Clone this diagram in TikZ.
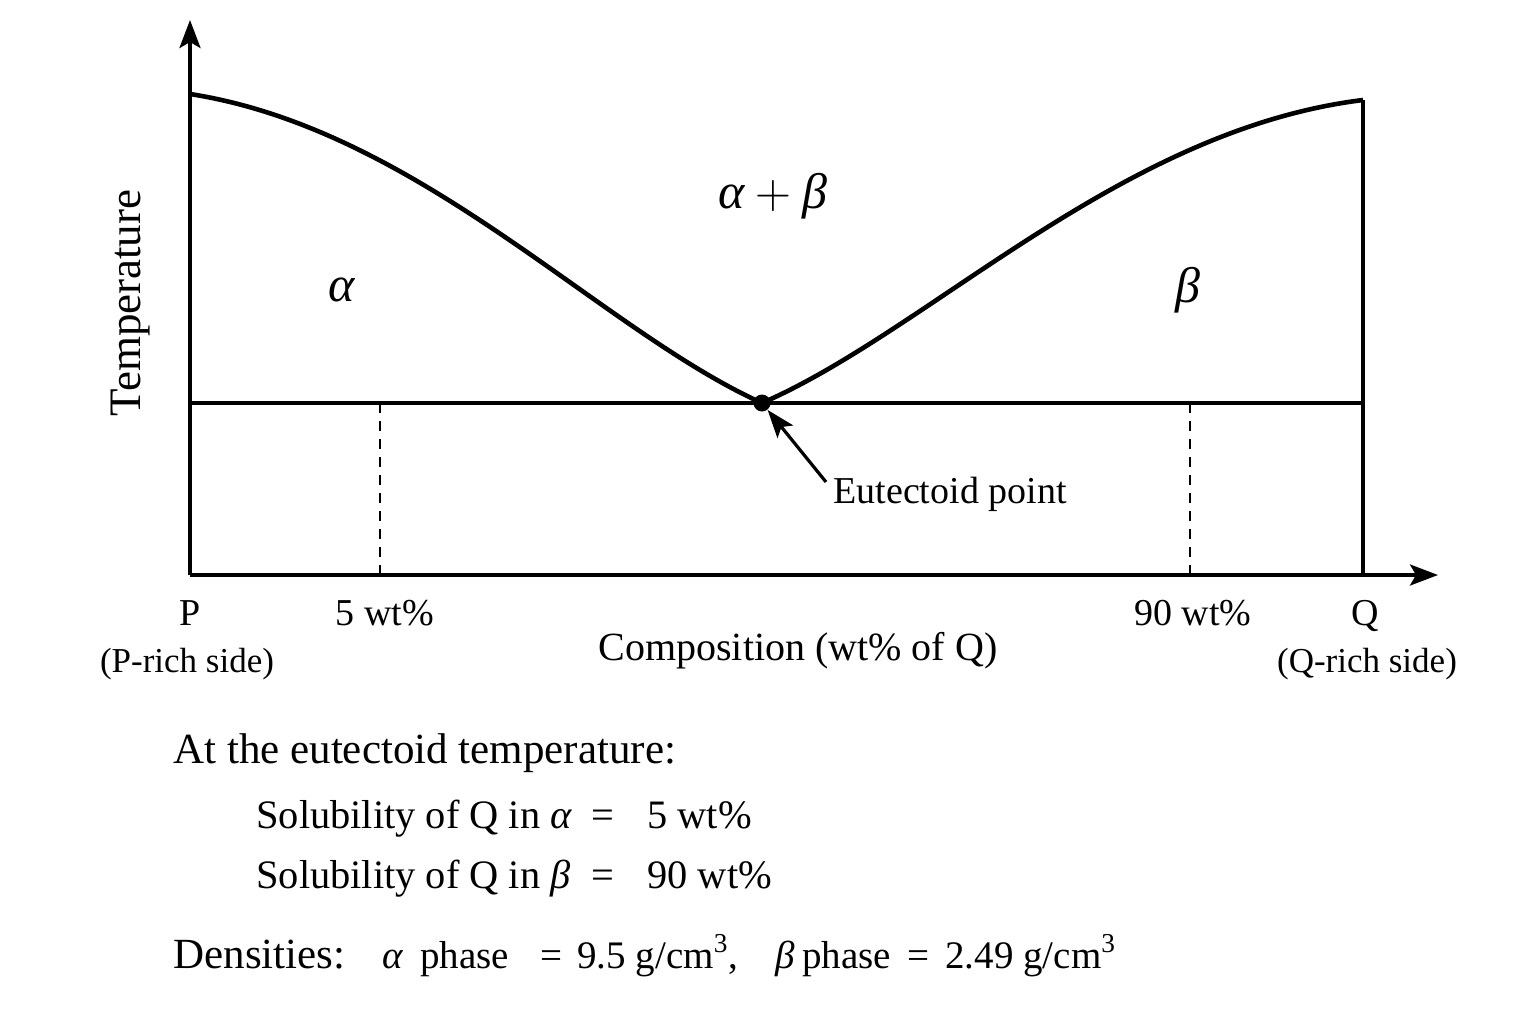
\documentclass[tikz,border=0pt]{standalone}
\usepackage{fontspec}
\setmainfont{Liberation Serif}
\usetikzlibrary{arrows.meta}
\newcommand{\gal}{{\itshape α}}
\newcommand{\gbe}{{\itshape β}}
\begin{document}
\begin{tikzpicture}[x=0.5pt,y=-0.5pt,
  axis/.style={line width=1.8pt,-{Stealth[length=14pt,width=10.5pt,inset=3pt]}},
  thin line/.style={line width=1.8pt},
  phase curve/.style={line width=2.3pt},
  guide/.style={line width=0.9pt,dash pattern=on 5pt off 4pt},
  lbl/.style={inner sep=0pt,font=\fontsize{19}{22}\selectfont},
  mid/.style={inner sep=0pt,font=\fontsize{20.2}{24}\selectfont},
  den/.style={inner sep=0pt,font=\fontsize{19.5}{23}\selectfont},
  small/.style={inner sep=0pt,font=\fontsize{17.5}{20}\selectfont},
  big/.style={inner sep=0pt,font=\fontsize{21.5}{25}\selectfont},
  greek/.style={inner sep=0pt,font=\fontsize{25}{28}\selectfont}]
\useasboundingbox (0,0) rectangle (1536,1024);
% key points
\coordinate (O) at (190,575);
\coordinate (Ytop) at (190,20);
\coordinate (Xend) at (1438,575);
\coordinate (Lstart) at (190,94);
\coordinate (Rend) at (1363,100);
\coordinate (Rbase) at (1363,575);
\coordinate (E) at (762,403);
\coordinate (Hl) at (190,403);
\coordinate (Hr) at (1363,403);
\coordinate (D1t) at (380,403);
\coordinate (D1b) at (380,575);
\coordinate (D2t) at (1190,403);
\coordinate (D2b) at (1190,575);
% axes
\draw[axis] (O) -- (Ytop);
\draw[axis] (O) -- (Xend);
\draw[thin line] (Rbase) -- (Rend);
\draw[thin line] (Hl) -- (Hr);
\draw[guide] (D1t) -- (D1b);
\draw[guide] (D2t) -- (D2b);
% phase boundary
\draw[phase curve] (Lstart) .. controls (420,130) and (600,330) .. (E)
  .. controls (930,330) and (1120,130) .. (Rend);
\node[circle,fill=black,inner sep=0pt,minimum size=8.5pt] (dot) at (E) {};
% phase labels
\node[greek] (la) at (342,290) {\gal};
\node[greek] (lab) at (773,196) {\gal${}+{}$\gbe};
\node[greek] (lb) at (1188,290) {\gbe};
% eutectoid annotation
\node[lbl,anchor=base west] (ep) at (833,503) {Eutectoid point};
\coordinate (epa) at (826,482);
\draw[line width=1.6pt,-{Stealth[length=14pt,width=10pt,inset=3pt]}] (epa) -- (dot);
% axis labels
\node[inner sep=0pt,font=\fontsize{22.5}{26}\selectfont,rotate=90,anchor=base] (temp) at (140,303) {Temperature};
\node[lbl,anchor=base] (P) at (190,625) {P};
\node[lbl,anchor=base] (w5) at (385,625) {5 wt\%};
\node[lbl,anchor=base] (w90) at (1193,625) {90 wt\%};
\node[lbl,anchor=base] (Q) at (1365,625) {Q};
\node[small,anchor=base] (Pr) at (187,672) {(P-rich side)};
\node[small,anchor=base] (Qr) at (1367,672) {(Q-rich side)};
\node[font=\fontsize{20}{24}\selectfont,inner sep=0pt,anchor=base] (comp) at (798,660) {Composition (wt\% of Q)};
% data text
\node[big,anchor=base west] (t1) at (173,763) {At the eutectoid temperature:};
\node[mid,anchor=base west] (s1) at (256,828) {Solubility of Q in \gal};
\node[mid,anchor=base] (s1e) at (603,828) {=};
\node[mid,anchor=base west] (s1v) at (647,828) {5 wt\%};
\node[mid,anchor=base west] (s2) at (256,888) {Solubility of Q in \gbe};
\node[mid,anchor=base] (s2e) at (603,888) {=};
\node[mid,anchor=base west] (s2v) at (647,888) {90 wt\%};
\node[big,anchor=base west] (d0) at (173,968) {Densities:};
\node[den,anchor=base west] (d1g) at (382,968) {\gal};
\node[den,anchor=base west] (d1) at (420,968) {phase};
\node[den,anchor=base] (d1e) at (551,968) {=};
\node[den,anchor=base west] (d1v) at (577,968) {9.5 g/cm\textsuperscript{3},};
\node[den,anchor=base west] (d2g) at (775,968) {\gbe};
\node[den,anchor=base west] (d2) at (802,968) {phase};
\node[den,anchor=base] (d2e) at (918,968) {=};
\node[den,anchor=base west] (d2v) at (945,968) {2.49 g/cm\textsuperscript{3}};
\end{tikzpicture}
\end{document}
